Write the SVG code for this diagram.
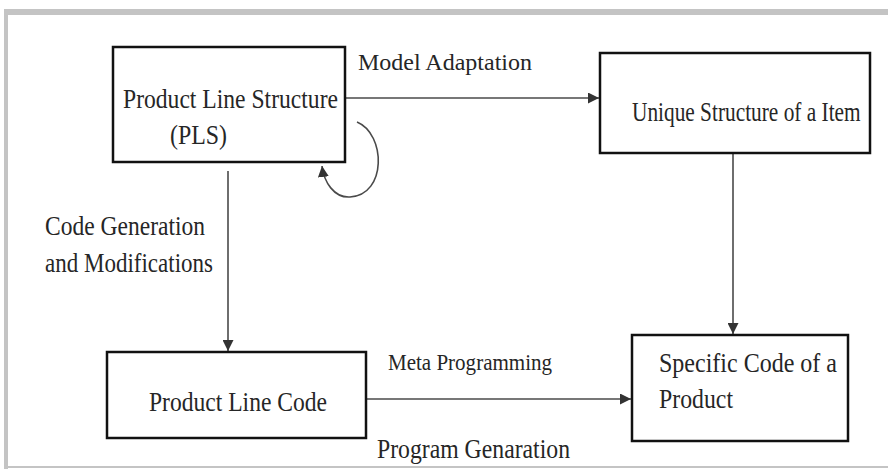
<svg xmlns="http://www.w3.org/2000/svg" width="888" height="469" viewBox="0 0 888 469">
  <style>
    .frame { fill: none; stroke: #c4c4c4; }
    .box { fill: #ffffff; stroke: #111111; stroke-width: 2.5; }
    .conn { fill: none; stroke: #4a4a4a; stroke-width: 1.6; }
    .lbl { font-family: "Liberation Serif", "Times New Roman", serif; font-size: 27px; fill: #262626; }
    .small { font-size: 23px; }
  </style>
  <defs>
    <marker id="arrowBig" viewBox="0 0 10 10" refX="10" refY="5" markerWidth="11" markerHeight="11" markerUnits="userSpaceOnUse" orient="auto">
      <path d="M0,0 L10,5 L0,10 Z" fill="#333333"/>
    </marker>
  </defs>

  <rect width="888" height="469" fill="#ffffff"/>

  <!-- outer frame -->
  <g id="frame">
    <line class="frame" x1="4" y1="12" x2="888" y2="12" stroke-width="6"/>
    <line class="frame" x1="6" y1="9" x2="6" y2="469" stroke-width="4"/>
    <line class="frame" x1="6" y1="467" x2="888" y2="467" stroke-width="2" stroke="#d8d8d8"/>
  </g>

  <!-- connectors -->
  <g id="connectors">
    <line class="conn" x1="346" y1="98" x2="599" y2="98" marker-end="url(#arrowBig)"/>
    <line class="conn" x1="228" y1="171" x2="228" y2="351" marker-end="url(#arrowBig)"/>
    <line class="conn" x1="733" y1="154" x2="733" y2="334" marker-end="url(#arrowBig)"/>
    <line class="conn" x1="367" y1="399" x2="631" y2="399" marker-end="url(#arrowBig)"/>
    <path class="conn" d="M357,122 C386,134 387,195 350,197 C334,198 324,182 322,166" marker-end="url(#arrowBig)"/>
  </g>

  <!-- nodes -->
  <g id="node-pls">
    <rect class="box" x="113" y="47" width="232" height="115"/>
    <text class="lbl" x="123" y="108" textLength="215" lengthAdjust="spacingAndGlyphs">Product Line Structure</text>
    <text class="lbl" x="170" y="144" textLength="57" lengthAdjust="spacingAndGlyphs">(PLS)</text>
  </g>

  <g id="node-unique">
    <rect class="box" x="600" y="53" width="270" height="100"/>
    <text class="lbl" transform="matrix(0.79,0,0,1,632,121)">Unique Structure of a Item</text>
  </g>

  <g id="node-plc">
    <rect class="box" x="107" y="352" width="259" height="86"/>
    <text class="lbl" x="149" y="411" textLength="178" lengthAdjust="spacingAndGlyphs">Product Line Code</text>
  </g>

  <g id="node-specific">
    <rect class="box" x="632" y="335" width="216" height="106"/>
    <text class="lbl" x="659" y="372" textLength="178" lengthAdjust="spacingAndGlyphs">Specific Code of a</text>
    <text class="lbl" x="659" y="408" textLength="74" lengthAdjust="spacingAndGlyphs">Product</text>
  </g>

  <!-- connector labels -->
  <g id="labels">
    <text class="lbl small" x="358" y="70" textLength="174" lengthAdjust="spacingAndGlyphs">Model Adaptation</text>
    <text class="lbl" x="45" y="235" textLength="160" lengthAdjust="spacingAndGlyphs">Code Generation</text>
    <text class="lbl" x="45" y="272" textLength="168" lengthAdjust="spacingAndGlyphs">and Modifications</text>
    <text class="lbl small" x="388" y="370" textLength="164" lengthAdjust="spacingAndGlyphs">Meta Programming</text>
    <text class="lbl" x="377" y="458" textLength="193" lengthAdjust="spacingAndGlyphs">Program Genaration</text>
  </g>
</svg>
